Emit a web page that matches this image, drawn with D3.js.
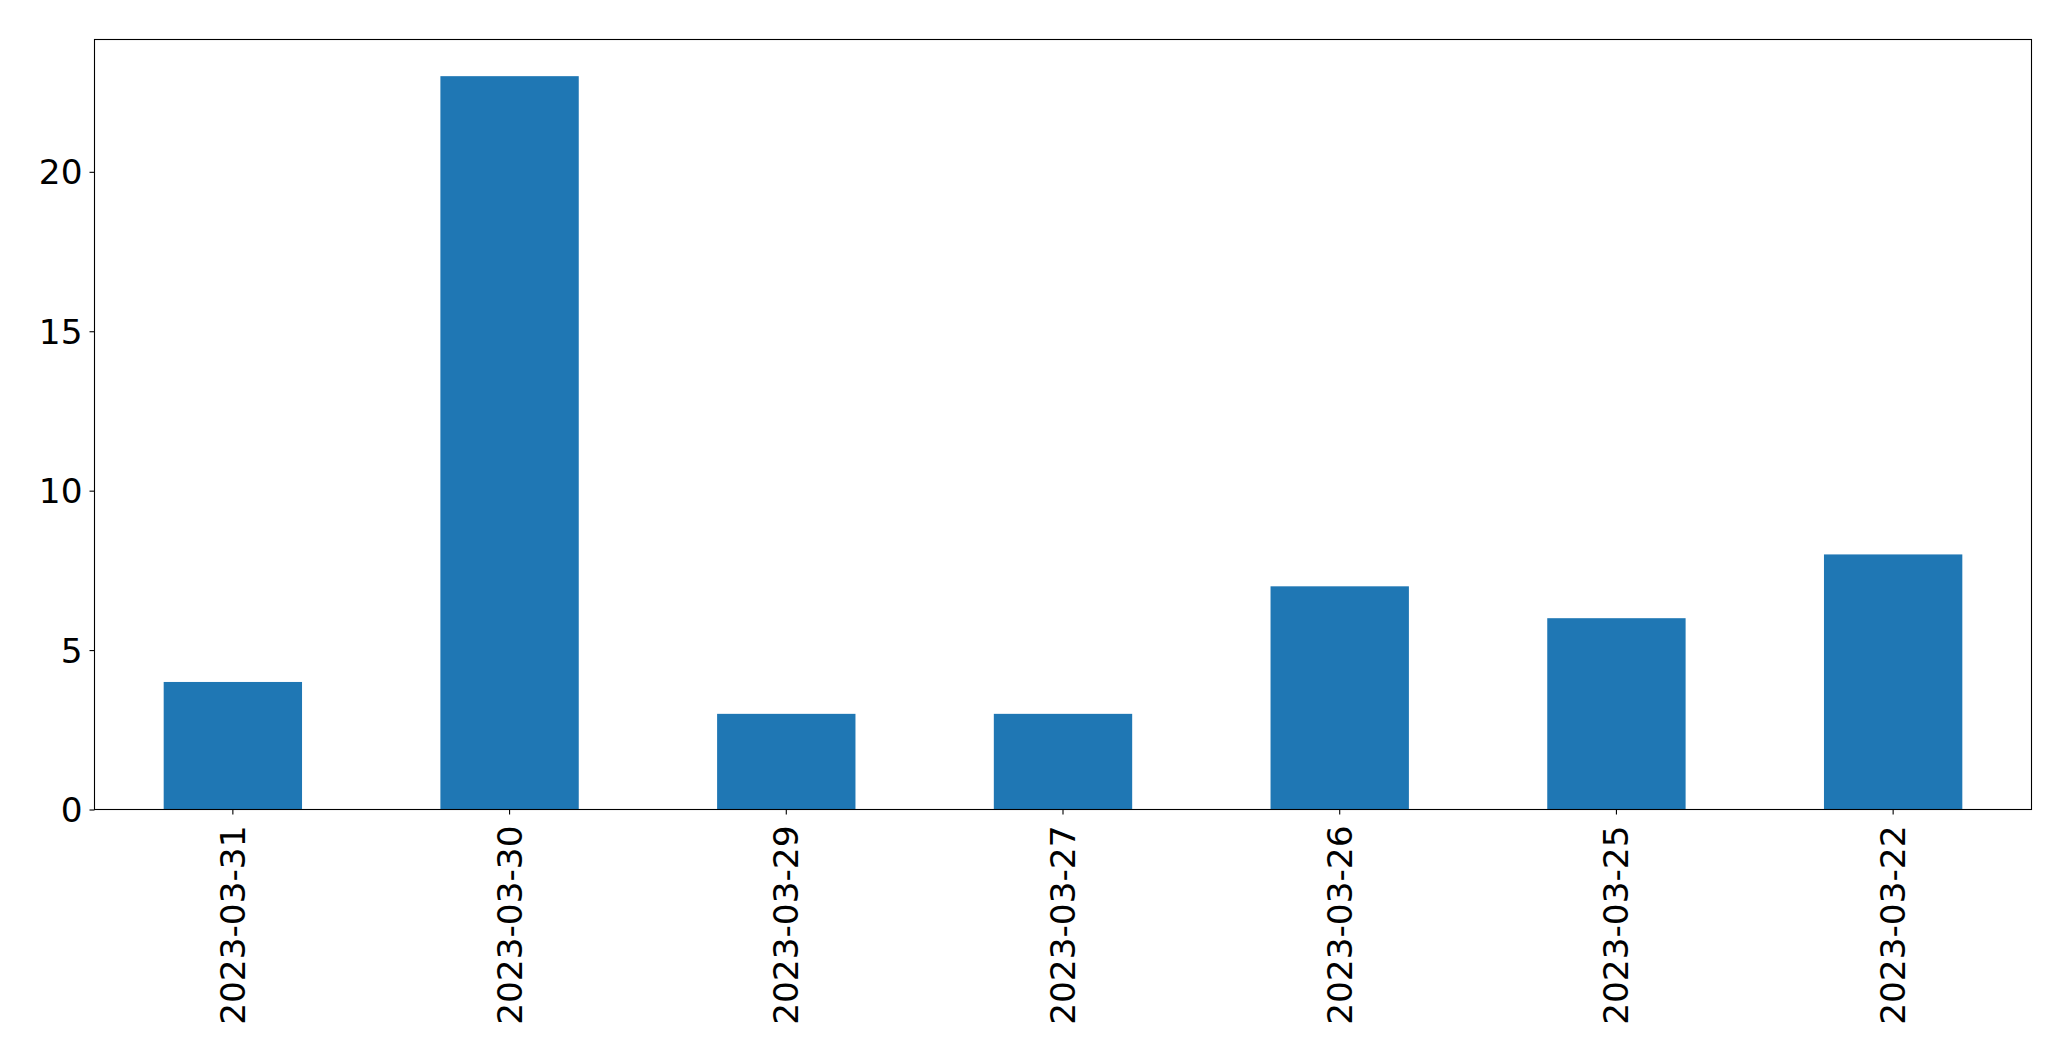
<!DOCTYPE html>
<html>
<head>
<meta charset="utf-8">
<script src="https://cdn.jsdelivr.net/npm/d3@7"></script>
<style>
  html, body { margin: 0; padding: 0; background: #fff; }
  svg { display: block; }
  text { font-family: "DejaVu Sans", sans-serif; fill: #000; }
</style>
</head>
<body>
<svg id="chart" width="2071" height="1061"></svg>
<script>
const categories = ["2023-03-31", "2023-03-30", "2023-03-29", "2023-03-27", "2023-03-26", "2023-03-25", "2023-03-22"];
const values = [4, 23, 3, 3, 7, 6, 8];
const yTicks = [0, 5, 10, 15, 20];

const W = 2071, H = 1061;
const margin = { left: 94.5, right: W - 2031.5, top: 39.5, bottom: H - 809.5 };
const iw = W - margin.left - margin.right;
const ih = H - margin.top - margin.bottom;

const svg = d3.select("#chart");
const g = svg.append("g").attr("transform", `translate(${margin.left},${margin.top})`);

const x = d3.scaleBand().domain(categories).range([0, iw]).paddingInner(0.5).paddingOuter(0.25);
const y = d3.scaleLinear().domain([0, d3.max(values) * 1.05]).range([ih, 0]);

g.selectAll("rect.bar")
  .data(values)
  .join("rect")
  .attr("class", "bar")
  .attr("x", (d, i) => x(categories[i]))
  .attr("width", x.bandwidth())
  .attr("y", d => y(d))
  .attr("height", d => y(0) - y(d))
  .attr("fill", "#1f77b4");

const fontSize = 34.3;

// y axis
const yAxis = g.append("g").call(d3.axisLeft(y).tickValues(yTicks).tickSize(5).tickPadding(7));
yAxis.select(".domain").remove();
yAxis.selectAll(".tick line").attr("stroke", "#000").attr("stroke-width", 1.1);
yAxis.selectAll(".tick text").style("font-size", fontSize + "px").attr("dy", "0.35em");

// x axis
const xAxis = g.append("g").attr("transform", `translate(0,${ih})`)
  .call(d3.axisBottom(x).tickSize(5).tickPadding(0));
xAxis.select(".domain").remove();
xAxis.selectAll(".tick line").attr("stroke", "#000").attr("stroke-width", 1.1);
xAxis.selectAll(".tick text")
  .style("font-size", fontSize + "px")
  .attr("text-anchor", "end")
  .attr("dy", null)
  .attr("y", null)
  .attr("dominant-baseline", "central")
  .attr("transform", "translate(0,16) rotate(-90)");

// frame
g.append("rect")
  .attr("x", 0).attr("y", 0).attr("width", iw).attr("height", ih)
  .attr("fill", "none").attr("stroke", "#000").attr("stroke-width", 1.1);
</script>
</body>
</html>
